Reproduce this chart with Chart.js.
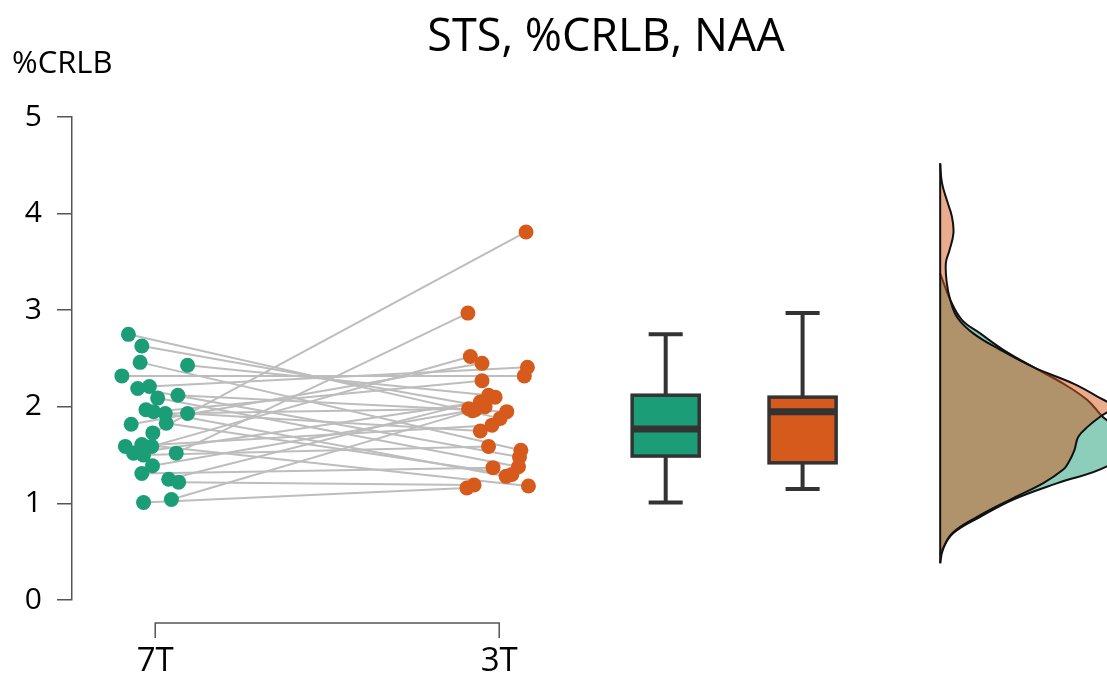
<!DOCTYPE html>
<html>
<head>
<meta charset="utf-8">
<script src="https://cdn.jsdelivr.net/npm/chart.js@4.4.1/dist/chart.umd.min.js"></script>
<style>
  html, body { margin: 0; padding: 0; background: #fff; }
</style>
</head>
<body>
<canvas id="chart" width="1107" height="675"></canvas>
<script>
const groups = ["7T", "3T"];
const groupPos = [1, 2];
const colors = ["#1b9e77", "#d65a1c"];
const yTicks = [0, 1, 2, 3, 4, 5];

// one subject per index: 7T value paired with its 3T value
const crlb7T = [2.75, 2.63, 2.46, 2.43, 2.32, 2.19, 2.21, 2.09, 2.12, 1.97, 1.95, 1.93, 1.93, 1.83,
                1.82, 1.73, 1.59, 1.61, 1.59, 1.52, 1.50, 1.52, 1.39, 1.31, 1.25, 1.22, 1.01, 1.04];
const crlb3T = [1.88, 2.00, 1.55, 2.12, 2.32, 1.48, 2.41, 1.38, 1.95, 1.28, 2.27, 1.98, 1.75, 1.30,
                2.45, 3.81, 1.81, 1.18, 2.52, 2.05, 1.59, 2.97, 1.97, 1.37, 2.10, 1.19, 1.16, 1.96];
// horizontal jitter of each dot (x units)
const jitter7T = [-0.078, -0.039, -0.044, 0.094, -0.097, -0.051, -0.017, 0.007, 0.066, -0.027, -0.005, 0.029, 0.094, 0.032,
                  -0.070, -0.007, -0.087, -0.039, -0.010, -0.063, -0.034, 0.061, -0.008, -0.039, 0.039, 0.068, -0.034, 0.047];
const jitter3T = [0.003, -0.041, 0.063, -0.031, 0.073, 0.059, 0.082, 0.056, 0.022, 0.020, -0.050, -0.089, -0.055, 0.037,
                  -0.050, 0.078, -0.021, 0.085, -0.084, -0.055, -0.031, -0.091, -0.070, -0.018, -0.012, -0.073, -0.094, -0.078];

// box stats: min, q1, median, q3, max
const box7T = [1.01, 1.49, 1.77, 2.12, 2.75];
const box3T = [1.15, 1.42, 1.95, 2.10, 2.97];

// density curves
const densY7T = [0.47, 0.52, 0.69, 0.86, 1.04, 1.21, 1.38, 1.55, 1.72, 1.90, 2.07, 2.24, 2.41, 2.59, 2.76, 2.90, 3.11, 3.38];
const dens7T  = [0, 0.011, 0.082, 0.253, 0.462, 0.741, 1.050, 1.150, 1.150, 1.025, 0.930, 0.778, 0.589, 0.399, 0.253, 0.137, 0.063, 0];
const densY3T = [0.38, 0.52, 0.69, 0.86, 1.04, 1.21, 1.35, 1.42, 1.55, 1.69, 1.80, 1.90, 2.00, 2.10, 2.24, 2.41, 2.59, 2.76,
                 2.93, 3.11, 3.28, 3.49, 3.62, 3.80, 3.97, 4.14, 4.32, 4.52];
const dens3T  = [0, 0.017, 0.076, 0.234, 0.443, 0.652, 0.778, 0.810, 0.848, 0.873, 0.937, 1.013, 1.090, 1.000, 0.842, 0.589, 0.380, 0.209,
                 0.106, 0.063, 0.042, 0.036, 0.059, 0.084, 0.074, 0.042, 0.011, 0];

const boxPos = [2.484, 2.882];
const boxWidth = 0.195;
const capWidth = 0.099;
const densBase = 3.282;
const densScale = 0.46;
const densFill = ["rgba(27,158,119,0.5)", "rgba(214,90,28,0.5)"];
const font = "'Open Sans'";

const datasets = [];

// gray pairing lines
crlb7T.forEach((v, i) => {
  datasets.push({
    data: [{ x: groupPos[0] + jitter7T[i], y: v }, { x: groupPos[1] + jitter3T[i], y: crlb3T[i] }],
    showLine: true,
    borderColor: "#bdbdbd",
    borderWidth: 2,
    pointRadius: 0,
    order: 2
  });
});

// dots
[[crlb7T, jitter7T], [crlb3T, jitter3T]].forEach(([vals, jit], g) => {
  datasets.push({
    data: vals.map((v, i) => ({ x: groupPos[g] + jit[i], y: v })),
    backgroundColor: colors[g],
    borderWidth: 0,
    pointRadius: 7.5,
    order: 1
  });
});

// densities, green first then orange over it
[[densY7T, dens7T, 6], [densY3T, dens3T, 5]].forEach(([ys, ds, ord], g) => {
  datasets.push({
    data: ys.map((y, i) => ({ x: densBase + ds[i] * densScale, y: y })),
    showLine: true,
    fill: "shape",
    tension: 0.4,
    backgroundColor: densFill[g],
    borderColor: "#111",
    borderWidth: 2,
    pointRadius: 0,
    order: ord
  });
});
datasets.push({
  data: [{ x: densBase, y: densY3T[0] }, { x: densBase, y: densY3T[densY3T.length - 1] }],
  showLine: true,
  borderColor: "#111",
  borderWidth: 2,
  pointRadius: 0,
  order: 4
});

const boxPlugin = {
  id: "boxes",
  afterDatasetsDraw(chart) {
    const { ctx, scales: { x, y } } = chart;
    [box7T, box3T].forEach((b, g) => {
      const c = x.getPixelForValue(boxPos[g]);
      const l = x.getPixelForValue(boxPos[g] - boxWidth / 2);
      const r = x.getPixelForValue(boxPos[g] + boxWidth / 2);
      const cl = x.getPixelForValue(boxPos[g] - capWidth / 2);
      const cr = x.getPixelForValue(boxPos[g] + capWidth / 2);
      ctx.save();
      ctx.strokeStyle = "#333";
      ctx.lineWidth = 4;
      ctx.beginPath();
      ctx.moveTo(c, y.getPixelForValue(b[0]));
      ctx.lineTo(c, y.getPixelForValue(b[1]));
      ctx.moveTo(c, y.getPixelForValue(b[3]));
      ctx.lineTo(c, y.getPixelForValue(b[4]));
      ctx.moveTo(cl, y.getPixelForValue(b[0]));
      ctx.lineTo(cr, y.getPixelForValue(b[0]));
      ctx.moveTo(cl, y.getPixelForValue(b[4]));
      ctx.lineTo(cr, y.getPixelForValue(b[4]));
      ctx.stroke();
      const top = y.getPixelForValue(b[3]);
      const bot = y.getPixelForValue(b[1]);
      ctx.fillStyle = colors[g];
      ctx.fillRect(l, top, r - l, bot - top);
      ctx.lineWidth = 3.5;
      ctx.strokeRect(l, top, r - l, bot - top);
      ctx.lineWidth = 7;
      ctx.beginPath();
      ctx.moveTo(l, y.getPixelForValue(b[2]));
      ctx.lineTo(r, y.getPixelForValue(b[2]));
      ctx.stroke();
      ctx.restore();
    });
  }
};

const decorPlugin = {
  id: "decor",
  afterDraw(chart) {
    const { ctx, chartArea, scales: { x } } = chart;
    const x1 = x.getPixelForValue(groupPos[0]);
    const x2 = x.getPixelForValue(groupPos[1]);
    const yb = chartArea.bottom;
    ctx.save();
    ctx.strokeStyle = "#555";
    ctx.lineWidth = 1.5;
    ctx.beginPath();
    ctx.moveTo(x1, yb + 38);
    ctx.lineTo(x1, yb + 23);
    ctx.lineTo(x2, yb + 23);
    ctx.lineTo(x2, yb + 38);
    ctx.stroke();
    ctx.fillStyle = "#000";
    ctx.textAlign = "center";
    ctx.textBaseline = "alphabetic";
    ctx.font = "45px " + font;
    ctx.fillText("STS, %CRLB, NAA", 606, 51);
    ctx.textAlign = "left";
    ctx.font = "31px " + font;
    ctx.fillText("%CRLB", 12, 73);
    ctx.restore();
  }
};

function draw() {
  new Chart(document.getElementById("chart"), {
    type: "scatter",
    data: { datasets: datasets },
    options: {
      responsive: false,
      animation: false,
      layout: { autoPadding: false, padding: { top: 117, left: 0, right: 0, bottom: 0 } },
      plugins: { legend: { display: false }, tooltip: { enabled: false } },
      scales: {
        x: {
          min: 0.758,
          max: 3.767,
          afterFit: s => { s.height = 75; s.paddingLeft = 0; s.paddingRight = 0; },
          afterBuildTicks: s => { s.ticks = groupPos.map(v => ({ value: v })); },
          grid: { display: false, drawTicks: false },
          border: { display: false },
          ticks: {
            padding: 42,
            autoSkip: false,
            maxRotation: 0,
            color: "#000",
            font: { family: font, size: 33 },
            callback: v => groups[groupPos.indexOf(v)]
          }
        },
        y: {
          min: 0,
          max: 5,
          afterFit: s => { s.width = 72; },
          afterBuildTicks: s => { s.ticks = yTicks.map(v => ({ value: v })); },
          grid: { drawOnChartArea: false, tickLength: 15, color: "#555", lineWidth: 1.5 },
          border: { color: "#555", width: 1.5 },
          ticks: { padding: 15, color: "#000", font: { family: font, size: 30 } }
        }
      }
    },
    plugins: [boxPlugin, decorPlugin]
  });
}

Promise.all([
  document.fonts.load("30px " + font),
  document.fonts.load("45px " + font)
]).then(draw, draw);
</script>
</body>
</html>
